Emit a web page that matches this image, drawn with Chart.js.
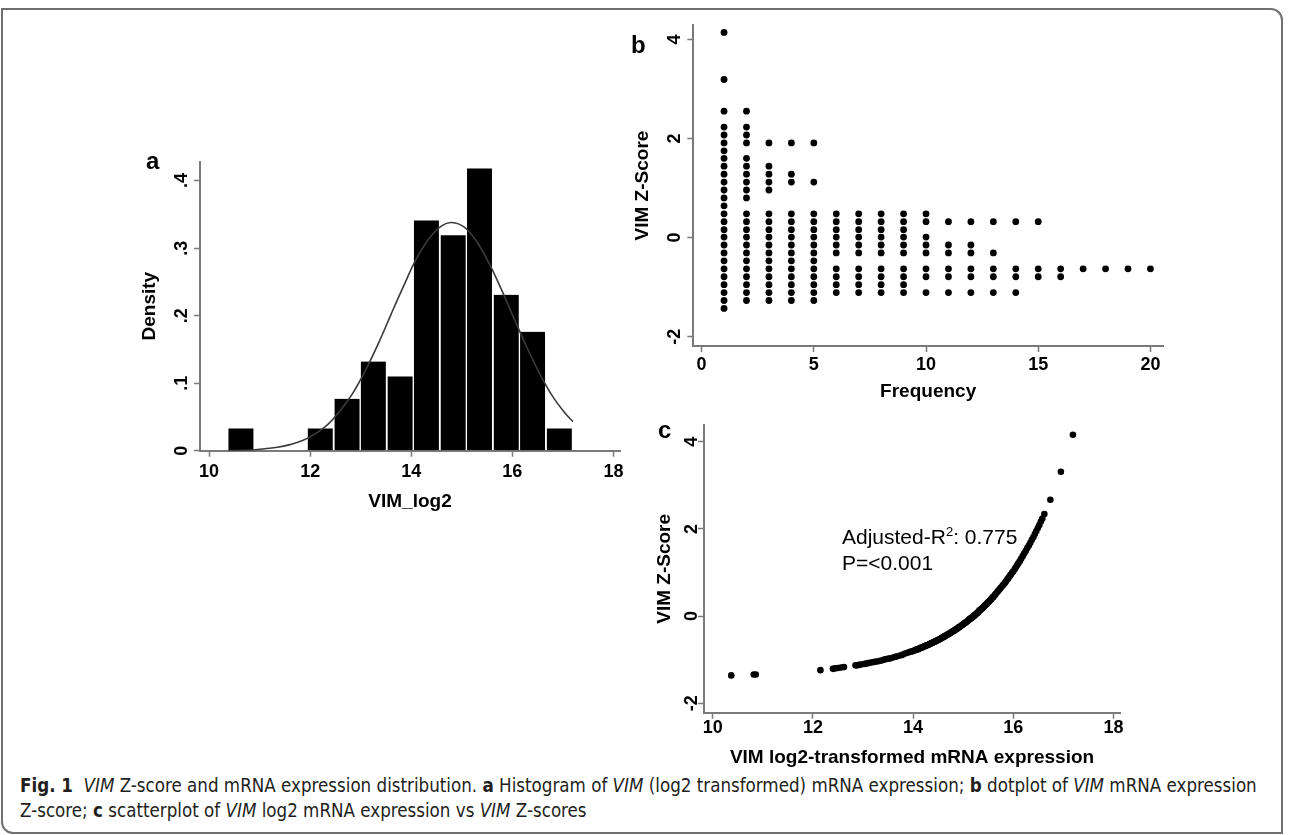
<!DOCTYPE html>
<html>
<head>
<meta charset="utf-8">
<title>VIM Z-score and mRNA expression</title>
<script src="https://cdn.jsdelivr.net/npm/chart.js@4.4.1/dist/chart.umd.min.js"></script>
<style>
    body { margin: 0; background: #fff; }
    #page { position: relative; width: 1290px; height: 835px; overflow: hidden; font-family: 'Liberation Sans', Arial, sans-serif; }
    #frame { position: absolute; left: 1px; top: 8px; width: 1278px; height: 822px; border: 2px solid #707070; border-radius: 0 12px 0 12px; }
    canvas { position: absolute; }
    .tag { position: absolute; font: bold 24px/24px 'Liberation Sans', Arial, sans-serif; color: #000; }
    #note { position: absolute; left: 842px; top: 524px; font: 21px/26px 'Liberation Sans', Arial, sans-serif; color: #000; white-space: nowrap; }
    #note sup { font-size: 13px; line-height: 0; vertical-align: 8px; }
    #caption { position: absolute; left: 20px; top: 773px; font: 18.6px/25px 'Liberation Sans Narrow', 'DejaVu Sans Condensed', 'Open Sans', sans-serif; color: #231f20; white-space: nowrap; }
</style>
</head>
<body>
<div id="page">
    <div id="frame"></div>
    <canvas id="histChart" width="520" height="380" style="left:120px; top:140px;"></canvas>
    <canvas id="dotChart" width="570" height="400" style="left:610px; top:10px;"></canvas>
    <canvas id="scatChart" width="520" height="362" style="left:620px; top:410px;"></canvas>
    <div class="tag" style="left:146px; top:149px;">a</div>
    <div class="tag" style="left:631px; top:33px;">b</div>
    <div class="tag" style="left:658px; top:418px;">c</div>
    <div id="note">Adjusted-R<sup>2</sup>: 0.775<br>P=&lt;0.001</div>
    <div id="caption"><b>Fig. 1</b>&nbsp; <i>VIM</i> Z-score and mRNA expression distribution. <b>a</b> Histogram of <i>VIM</i> (log2 transformed) mRNA expression; <b>b</b> dotplot of <i>VIM</i> mRNA expression<br>Z-score; <b>c</b> scatterplot of <i>VIM</i> log2 mRNA expression vs <i>VIM</i> Z-scores</div>
</div>
<script>
// panel a - histogram of VIM_log2 (bin centres, density)
const histBinCenters = [10.63, 11.15, 11.68, 12.20, 12.73, 13.25, 13.78, 14.30, 14.83, 15.35, 15.88, 16.40, 16.93];
const histDensity = [0.033, 0, 0, 0.033, 0.077, 0.132, 0.110, 0.341, 0.319, 0.418, 0.231, 0.176, 0.033];
// normal curve
const curveX = [10.37, 10.85, 11.1, 11.35, 11.6, 11.85, 12.1, 12.35, 12.6, 12.85, 13.1, 13.35, 13.6, 13.85, 14.1, 14.35, 14.6, 14.8, 15.05, 15.3, 15.55, 15.8, 16.05, 16.3, 16.55, 16.8, 17.05, 17.2];
const curveY = [0.000, 0.001, 0.003, 0.005, 0.009, 0.015, 0.025, 0.039, 0.060, 0.086, 0.120, 0.159, 0.202, 0.244, 0.284, 0.314, 0.333, 0.338, 0.331, 0.309, 0.276, 0.236, 0.193, 0.151, 0.113, 0.080, 0.055, 0.043];
const histXTicks = [10, 12, 14, 16, 18];
const histYTicks = [0, 0.1, 0.2, 0.3, 0.4];

// panel b - dotplot: one row per Z-score group, number of dots = frequency
const dotRowZ = [-1.43, -1.27, -1.11, -0.95, -0.79, -0.63, -0.47, -0.31, -0.15, 0.01, 0.16, 0.32, 0.48, 0.64, 0.80, 0.96, 1.12, 1.28, 1.44, 1.60, 1.75, 1.91, 2.07, 2.23, 2.55, 3.19, 4.14];
const dotRowCount = [1, 5, 14, 9, 16, 20, 5, 13, 12, 10, 9, 15, 10, 1, 2, 3, 5, 4, 3, 2, 1, 5, 2, 2, 2, 1, 1];
const dotXTicks = [0, 5, 10, 15, 20];
const dotYTicks = [-2, 0, 2, 4];

// panel c - log2 expression vs Z-score
const exprLog2 = [
    10.37, 10.82, 10.86,
    12.15, 12.40, 12.44,
    12.50, 12.56, 12.62, 12.85, 12.88, 12.92, 12.96,
    13.02, 13.06, 13.10, 13.14, 13.19, 13.23, 13.28, 13.32, 13.37, 13.41, 13.45, 13.49,
    13.54, 13.60, 13.66, 13.72, 13.78, 13.84, 13.89, 13.94, 13.98, 14.02,
    14.05, 14.07, 14.08, 14.10, 14.12, 14.13, 14.15, 14.17, 14.18, 14.20, 14.22, 14.23, 14.25, 14.27, 14.28, 14.30,
    14.32, 14.33, 14.35, 14.37, 14.38, 14.40, 14.42, 14.43, 14.45, 14.47, 14.48, 14.50, 14.52, 14.53, 14.55,
    14.57, 14.59, 14.61, 14.63, 14.64, 14.66, 14.68, 14.70, 14.72, 14.73, 14.75, 14.77, 14.79, 14.81, 14.82,
    14.84, 14.86, 14.88, 14.90, 14.91, 14.93, 14.95, 14.97, 14.99, 15.00, 15.02, 15.04, 15.06, 15.08,
    15.10, 15.11, 15.13, 15.14, 15.15, 15.17, 15.18, 15.19, 15.21, 15.22, 15.23, 15.25, 15.26, 15.28, 15.29,
    15.30, 15.32, 15.33, 15.34, 15.36, 15.37, 15.38, 15.40, 15.41, 15.43, 15.44, 15.45, 15.47, 15.48, 15.49,
    15.51, 15.52, 15.53, 15.55, 15.56, 15.58, 15.59, 15.60,
    15.63, 15.65, 15.68, 15.70, 15.73, 15.75, 15.78, 15.80, 15.83, 15.85, 15.88, 15.90, 15.93, 15.95, 15.98,
    16.00, 16.03, 16.05, 16.08, 16.10, 16.13,
    16.16, 16.19, 16.22, 16.25, 16.28, 16.31, 16.34, 16.37, 16.40, 16.43, 16.46, 16.49, 16.52, 16.55, 16.58, 16.62,
    16.74, 16.95, 17.19
];
const zScore = [
    -1.36, -1.34, -1.34,
    -1.24, -1.21, -1.20,
    -1.19, -1.18, -1.17, -1.13, -1.13, -1.12, -1.11,
    -1.10, -1.09, -1.08, -1.07, -1.06, -1.05, -1.04, -1.03, -1.02, -1.00, -0.99, -0.98,
    -0.97, -0.95, -0.93, -0.91, -0.89, -0.86, -0.84, -0.82, -0.81, -0.79,
    -0.78, -0.77, -0.76, -0.76, -0.75, -0.74, -0.73, -0.72, -0.72, -0.71, -0.70, -0.69, -0.68, -0.67, -0.67, -0.66,
    -0.65, -0.64, -0.63, -0.62, -0.62, -0.60, -0.59, -0.59, -0.58, -0.56, -0.56, -0.55, -0.53, -0.53, -0.52,
    -0.50, -0.49, -0.48, -0.46, -0.46, -0.44, -0.43, -0.42, -0.40, -0.40, -0.38, -0.37, -0.35, -0.34, -0.33,
    -0.32, -0.30, -0.29, -0.27, -0.26, -0.25, -0.23, -0.21, -0.20, -0.19, -0.17, -0.15, -0.14, -0.12,
    -0.10, -0.09, -0.07, -0.06, -0.05, -0.04, -0.03, -0.02, 0.00, 0.01, 0.02, 0.04, 0.05, 0.07, 0.08,
    0.09, 0.12, 0.13, 0.14, 0.16, 0.17, 0.18, 0.20, 0.21, 0.24, 0.25, 0.26, 0.28, 0.29, 0.31,
    0.33, 0.34, 0.35, 0.38, 0.39, 0.42, 0.43, 0.44,
    0.48, 0.51, 0.55, 0.58, 0.62, 0.65, 0.69, 0.72, 0.76, 0.79, 0.84, 0.87, 0.92, 0.95, 1.00,
    1.03, 1.08, 1.12, 1.17, 1.21, 1.26,
    1.32, 1.38, 1.44, 1.50, 1.56, 1.62, 1.68, 1.75, 1.81, 1.88, 1.95, 2.02, 2.09, 2.17, 2.24, 2.34,
    2.67, 3.31, 4.16
];
const scatXTicks = [10, 12, 14, 16, 18];
const scatYTicks = [-2, 0, 2, 4];

Chart.defaults.font.family = "'Liberation Sans', Arial, sans-serif";
Chart.defaults.color = '#000';

const axisColor = '#7a7a7a';
const tickFont = { size: 18, weight: 'bold' };
const titleFont = { size: 19, weight: 'bold' };

function fixedTicks(values) {
    return scale => { scale.ticks = values.map(v => ({ value: v })); };
}

// x axis at the bottom, Stata look: grey line, short ticks, no grid
function xAxis(min, max, ticks, height, pad, title, titlePad) {
    return {
        type: 'linear', min: min, max: max, offset: false,
        afterBuildTicks: fixedTicks(ticks),
        afterFit: scale => { scale.height = height; },
        border: { display: true, color: axisColor, width: 2 },
        grid: { display: true, offset: false, drawOnChartArea: false, drawTicks: true, tickLength: 6, tickWidth: 1.5, tickColor: axisColor },
        ticks: { autoSkip: false, maxRotation: 0, font: tickFont, padding: pad, color: '#000' },
        title: { display: true, text: title, font: titleFont, color: '#000', padding: { top: 0, bottom: titlePad } }
    };
}

// y axis with rotated labels
function yAxis(min, max, ticks, width, pad, fmt, title, titlePad) {
    return {
        type: 'linear', min: min, max: max,
        afterBuildTicks: fixedTicks(ticks),
        afterFit: scale => { scale.width = width; },
        border: { display: true, color: axisColor, width: 2 },
        grid: { display: true, drawOnChartArea: false, drawTicks: true, tickLength: 6, tickWidth: 1.5, tickColor: axisColor },
        ticks: { autoSkip: false, minRotation: 90, maxRotation: 90, crossAlign: 'center', font: tickFont, padding: pad, color: '#000', callback: fmt },
        title: { display: true, text: title, font: titleFont, color: '#000', padding: { top: titlePad, bottom: 0 } }
    };
}

const plainNum = v => String(v);
const densityFmt = v => v === 0 ? '0' : String(Math.round(v * 10) / 10).replace('0.', '.');

const commonOpts = {
    responsive: false,
    animation: false,
    events: [],
    plugins: { legend: { display: false }, tooltip: { enabled: false } }
};

// panel a
new Chart(document.getElementById('histChart'), {
    type: 'bar',
    data: {
        datasets: [
            {
                type: 'line',
                data: curveX.map((x, i) => ({ x: x, y: curveY[i] })),
                borderColor: '#3a3a3a',
                borderWidth: 1.6,
                pointRadius: 0,
                tension: 0.4,
                fill: false,
                order: 0
            },
            {
                type: 'bar',
                data: histBinCenters.map((x, i) => ({ x: x, y: histDensity[i] })),
                backgroundColor: '#000',
                borderColor: '#fff',
                borderWidth: { left: 1, right: 1, top: 0, bottom: 0 },
                borderSkipped: false,
                categoryPercentage: 1,
                barPercentage: 1,
                order: 1
            }
        ]
    },
    options: {
        ...commonOpts,
        layout: { padding: { left: 0, top: 21.7, right: 20, bottom: 7.3 } },
        scales: {
            x: xAxis(9.82, 18.13, histXTicks, 62, 4.2, 'VIM_log2', 0),
            y: yAxis(0, 0.428, histYTicks, 80, 4.5, densityFmt, 'Density', 18.6)
        }
    }
});

// panel b
const dotPoints = [];
dotRowZ.forEach((z, i) => {
    for (let f = 1; f <= dotRowCount[i]; f++) dotPoints.push({ x: f, y: z });
});

new Chart(document.getElementById('dotChart'), {
    type: 'scatter',
    data: {
        datasets: [{
            data: dotPoints,
            backgroundColor: '#000',
            borderWidth: 0,
            pointRadius: 3.4
        }]
    },
    options: {
        ...commonOpts,
        layout: { padding: { left: 0, top: 15, right: 17, bottom: 6.9 } },
        scales: {
            x: xAxis(-0.37, 20.56, dotXTicks, 57.1, 2.2, 'Frequency', 0),
            y: yAxis(-2.188, 4.288, dotYTicks, 83.3, 4.3, plainNum, 'VIM Z-Score', 21.6)
        }
    }
});

// panel c
new Chart(document.getElementById('scatChart'), {
    type: 'scatter',
    data: {
        datasets: [{
            data: exprLog2.map((x, i) => ({ x: x, y: zScore[i] })),
            backgroundColor: '#000',
            borderWidth: 0,
            pointRadius: 3.3
        }]
    },
    options: {
        ...commonOpts,
        layout: { padding: { left: 0, top: 15, right: 20, bottom: 3.3 } },
        scales: {
            x: xAxis(9.826, 18.13, scatXTicks, 56, -1.2, 'VIM log2-transformed mRNA expression', 0),
            y: yAxis(-2.216, 4.383, scatYTicks, 84, -1.7, plainNum, 'VIM Z-Score', 33.6)
        }
    }
});
</script>
</body>
</html>
